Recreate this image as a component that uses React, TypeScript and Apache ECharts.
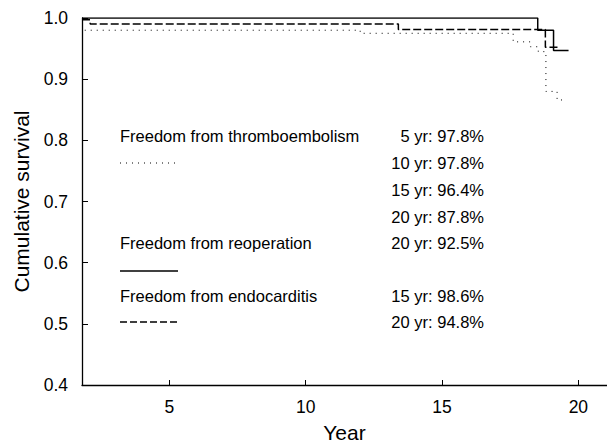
import React, { useEffect, useRef } from "react";
import * as echarts from "echarts";

const xTicks = [5, 10, 15, 20];

const reoperationYears = [1.8, 18.51, 19.09, 19.64];
const reoperationSurvival = [1.0, 0.98, 0.947, 0.947];

const endocarditisYears = [1.8, 2.1, 13.4, 18.79, 19.3];
const endocarditisSurvival = [0.997, 0.99, 0.981, 0.952, 0.952];

const thromboYears = [1.9, 12.0, 17.61, 18.24, 18.53, 18.81, 19.22, 19.52];
const thromboSurvival = [0.98, 0.975, 0.961, 0.953, 0.945, 0.88, 0.866, 0.866];

const seriesNames = [
  "Freedom from thromboembolism",
  "Freedom from reoperation",
  "Freedom from endocarditis",
];
const thromboRates = ["5 yr: 97.8%", "10 yr: 97.8%", "15 yr: 96.4%", "20 yr: 87.8%"];
const reoperationRates = ["20 yr: 92.5%"];
const endocarditisRates = ["15 yr: 98.6%", "20 yr: 94.8%"];

const FONT = "'Liberation Sans', Arial, sans-serif";

function pairs(xs: number[], ys: number[]) {
  return xs.map((x, i) => [x, ys[i]]);
}

export default function App() {
  const ref = useRef<HTMLDivElement>(null);
  useEffect(() => {
    if (!ref.current) return;
    const chart = echarts.init(ref.current, undefined, { renderer: "svg" });
    const legendFont = 16.5;
    const txt = (x: number, y: number, text: string, align: string) => ({
      type: "text",
      x,
      y,
      style: {
        text,
        fill: "#000",
        font: `${legendFont}px ${FONT}`,
        align,
        verticalAlign: "middle",
      },
    });
    const ln = (x1: number, x2: number, y: number, dash: any, w: number) => ({
      type: "line",
      shape: { x1, y1: y, x2, y2: y },
      style: { stroke: "#000", lineWidth: w, lineDash: dash },
    });
    const rightX = 484;
    const graphics: any[] = [
      txt(120, 136, seriesNames[0], "left"),
      ln(120, 175, 163, [1, 5], 1),
      txt(120, 243, seriesNames[1], "left"),
      ln(120, 178, 271, null, 1.5),
      txt(120, 296, seriesNames[2], "left"),
      ln(120, 178, 322, [7, 3], 1.5),
      txt(rightX, 136, thromboRates[0], "right"),
      txt(rightX, 163, thromboRates[1], "right"),
      txt(rightX, 190, thromboRates[2], "right"),
      txt(rightX, 216.5, thromboRates[3], "right"),
      txt(rightX, 243, reoperationRates[0], "right"),
      txt(rightX, 296, endocarditisRates[0], "right"),
      txt(rightX, 322, endocarditisRates[1], "right"),
    ];
    chart.setOption({
      animation: false,
      grid: {
        left: 82,
        right: 0,
        top: 18,
        bottom: 58,
        containLabel: false,
        outerBoundsMode: "none",
      },
      xAxis: {
        type: "value",
        min: 1.8,
        max: 21.05,
        name: "Year",
        nameLocation: "middle",
        nameGap: 37,
        nameTextStyle: { fontSize: 21, color: "#000", fontFamily: FONT },
        axisLine: { onZero: false, lineStyle: { color: "#000", width: 1.3 } },
        axisTick: { inside: true, length: 5, customValues: xTicks, lineStyle: { color: "#000" } },
        axisLabel: {
          customValues: xTicks,
          fontSize: 17.5,
          color: "#000",
          fontFamily: FONT,
          margin: 13,
        },
        splitLine: { show: false },
      },
      yAxis: {
        type: "value",
        min: 0.4,
        max: 1.0,
        interval: 0.1,
        name: "Cumulative survival",
        nameLocation: "middle",
        nameGap: 50,
        nameTextStyle: { fontSize: 21, color: "#000", fontFamily: FONT },
        axisLine: { show: true, lineStyle: { color: "#000", width: 1.3 } },
        axisTick: { inside: true, length: 6, lineStyle: { color: "#000" } },
        axisLabel: {
          fontSize: 17.5,
          color: "#000",
          fontFamily: FONT,
          margin: 14,
          formatter: (v: number) => v.toFixed(1),
        },
        splitLine: { show: false },
      },
      series: [
        {
          name: seriesNames[0],
          type: "line",
          step: "end",
          symbol: "none",
          data: pairs(thromboYears, thromboSurvival),
          lineStyle: { color: "#000", width: 1, type: [1, 5] },
        },
        {
          name: seriesNames[1],
          type: "line",
          step: "end",
          symbol: "none",
          data: pairs(reoperationYears, reoperationSurvival),
          lineStyle: { color: "#000", width: 1.5, type: "solid" },
        },
        {
          name: seriesNames[2],
          type: "line",
          step: "end",
          symbol: "none",
          data: pairs(endocarditisYears, endocarditisSurvival),
          lineStyle: { color: "#000", width: 1.5, type: [8, 3] },
        },
      ],
      graphic: graphics,
    });
    return () => chart.dispose();
  }, []);
  return (
    <div
      ref={ref}
      style={{ position: "fixed", left: 0, top: 0, width: 607, height: 443, background: "#fff" }}
    />
  );
}
